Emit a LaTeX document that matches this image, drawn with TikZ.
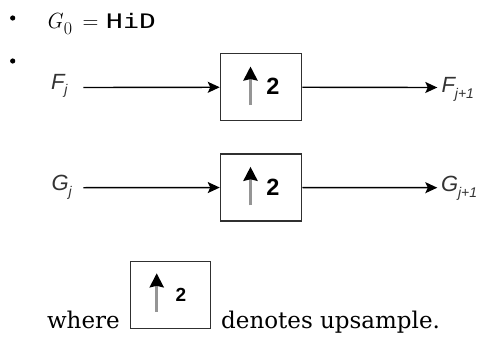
\documentclass[tikz,border=0pt]{standalone}
\usepackage{fontspec}
\setmainfont{DejaVu Serif}
\setmonofont{DejaVu Sans Mono}
\newfontfamily\lblfont{Liberation Sans}
\newfontfamily\lmfont{Latin Modern Roman}
\usetikzlibrary{arrows.meta,calc}
\definecolor{lblgray}{HTML}{333333}
\definecolor{boxline}{HTML}{303030}
\definecolor{shaftgray}{HTML}{959595}
\newcommand{\siglbl}[2]{{\lblfont\itshape\fontsize{22}{22}\selectfont #1\raisebox{-5.8pt}{\fontsize{14}{14}\selectfont #2}}}
\begin{document}
\begin{tikzpicture}[x=1pt,y=-1pt,
  every node/.style={inner sep=0pt, outer sep=0pt},
  updbox/.style={draw=boxline, line width=1.5pt, minimum width=81pt, minimum height=67pt, outer sep=0.75pt},
  smallbox/.style={draw=boxline, line width=1.2pt, minimum width=80pt, minimum height=67pt},
  sigline/.style={line width=1.4pt, -{Stealth[length=12pt,width=11pt,inset=2.5pt]}},
  uparrow/.style={draw=shaftgray, line width=3pt, -{Stealth[color=black,fill=black,length=14pt,width=14pt,inset=1.5pt]}},
  sig/.style={text=lblgray, anchor=base west},
  two/.style={font=\lblfont\bfseries\fontsize{23.5}{23.5}\selectfont},
  smalltwo/.style={font=\lblfont\bfseries\fontsize{19}{19}\selectfont},
  bullet/.style={circle, fill=black, minimum size=5.2pt},
  body/.style={anchor=base west, font=\fontsize{23}{23}\selectfont}]
\useasboundingbox (0,0) rectangle (489,337);

% bullets
\node[bullet] (bul1) at (12.7,18) {};
\node[bullet] (bul2) at (12.7,61) {};

% G_0 = HiD
\node[anchor=base west, font=\lmfont\fontsize{22}{22}\selectfont] (g0) at (45.5,28.5) {\textit{G}\kern0.8pt\raisebox{-6.5pt}{\fontsize{18}{18}\selectfont 0}};
\node[anchor=base, font=\lmfont\fontsize{22}{22}\selectfont] (eq) at (90.5,28.5) {=};
\node[anchor=base west, font=\ttfamily\fontsize{20}{20}\selectfont] (hid) at (106.2,28.5) {\scalebox{1.38}[1]{HiD}};

% row F
\node[updbox] (b1) at (261,87.2) {};
\node[two] (t1) at (273,86.7) {2};
\draw[uparrow] (250.5,105) -- (250.5,66.5);
\coordinate (fin) at (83.3,87.5);
\coordinate (fout) at (437.3,87.5);
\draw[sigline] (fin) -- (b1);
\draw[sigline] (b1) -- (fout);
\node[sig] (fj) at (51,89) {\siglbl{F}{j}};
\node[sig] (fj1) at (441.5,92.5) {\siglbl{F}{j+1}};

% row G
\node[updbox] (b2) at (261,187.5) {};
\node[two] (t2) at (273,187) {2};
\draw[uparrow] (250.5,205.3) -- (250.5,166.8);
\coordinate (gin) at (83.3,187.7);
\coordinate (gout) at (437.3,187.7);
\draw[sigline] (gin) -- (b2);
\draw[sigline] (b2) -- (gout);
\node[sig] (gj) at (51.5,190.5) {\siglbl{G}{j}};
\node[sig] (gj1) at (441,191.8) {\siglbl{G}{j+1}};

% legend line
\node[smallbox] (b3) at (170.35,294.85) {};
\node[smalltwo] (t3) at (181,295) {2};
\draw[uparrow] (156.7,311.7) -- (156.7,273.3);
\node[body] (where) at (47,328.5) {where};
\node[body] (denotes) at (221.2,328.5) {denotes upsample.};
\end{tikzpicture}
\end{document}
